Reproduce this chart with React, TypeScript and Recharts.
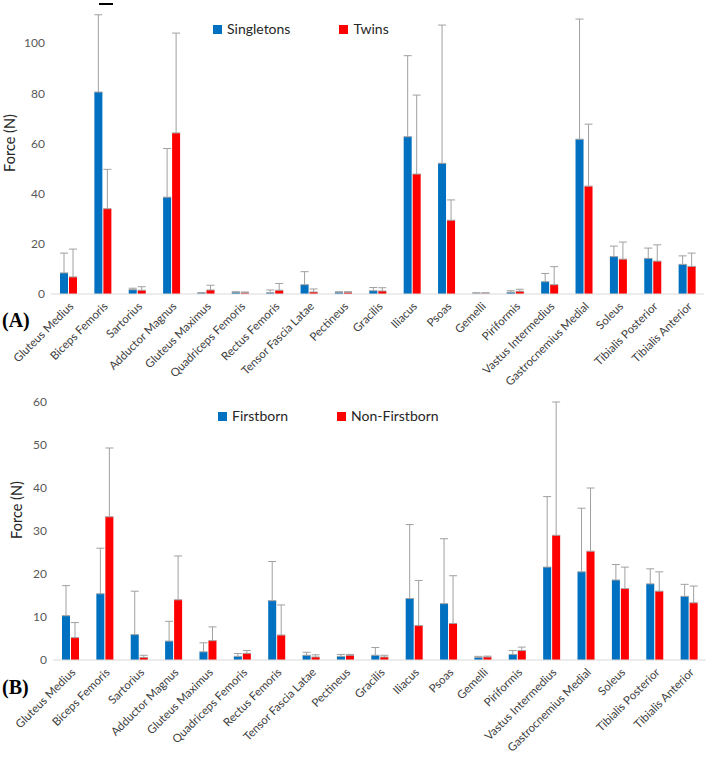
import React from 'react';
import { BarChart, Bar, XAxis, YAxis, Legend, ErrorBar, Label } from 'recharts';

const muscles = [
  'Gluteus Medius', 'Biceps Femoris', 'Sartorius', 'Adductor Magnus', 'Gluteus Maximus',
  'Quadriceps Femoris', 'Rectus Femoris', 'Tensor Fascia Latae', 'Pectineus', 'Gracilis',
  'Iliacus', 'Psoas', 'Gemelli', 'Piriformis', 'Vastus Intermedius',
  'Gastrocnemius Medial', 'Soleus', 'Tibialis Posterior', 'Tibialis Anterior',
];

// Panel A
const singletons = [8.4, 80.5, 1.7, 38.6, 0.4, 0.7, 0.5, 3.7, 0.7, 1.3, 62.7, 52.1, 0.3, 0.7, 4.9, 61.7, 14.9, 14.2, 11.8];
const singletonsSd = [7.9, 30.8, 0.6, 19.4, 0.2, 0.2, 1.1, 5.2, 0.2, 1.3, 32.3, 55.1, 0.2, 0.6, 3.3, 47.9, 4.2, 4.1, 3.4];
const twins = [6.8, 34, 1.5, 64.2, 1.6, 0.5, 1.5, 0.8, 0.7, 1.2, 47.8, 29.4, 0.3, 1.1, 3.7, 43, 13.9, 13.1, 11];
const twinsSd = [11.1, 15.7, 1.4, 39.8, 1.9, 0.3, 2.7, 1.2, 0.2, 1.3, 31.5, 8.1, 0.2, 0.8, 7.2, 24.7, 6.8, 6.5, 5.3];
const ticksA = [0, 20, 40, 60, 80, 100];

// Panel B
const firstborn = [10.3, 15.4, 5.9, 4.4, 1.9, 0.85, 13.8, 1.1, 0.85, 1.1, 14.3, 13.1, 0.6, 1.3, 21.6, 20.5, 18.6, 17.7, 14.8];
const firstbornSd = [7, 10.6, 10.1, 4.6, 2.1, 0.65, 9.1, 0.7, 0.45, 1.8, 17.2, 15.1, 0.25, 0.9, 16.4, 14.8, 3.6, 3.5, 2.8];
const nonFirstborn = [5.2, 33.3, 0.6, 14, 4.5, 1.55, 5.8, 0.7, 1.1, 0.7, 8, 8.5, 0.7, 2.2, 29, 25.3, 16.6, 16, 13.3];
const nonFirstbornSd = [3.5, 16, 0.5, 10.2, 3.2, 0.65, 7, 0.5, 0.2, 0.4, 10.5, 11.1, 0.2, 0.8, 31, 14.7, 5, 4.5, 3.9];
const ticksB = [0, 10, 20, 30, 40, 50, 60];

const BLUE = '#0070C0';
const RED = '#FF0000';
const FONT = 'Lato, "Open Sans", sans-serif';

const buildRows = (a: number[], aSd: number[], b: number[], bSd: number[]) =>
  muscles.map((name, i) => ({
    name,
    a: a[i],
    aErr: [0, aSd[i]],
    b: b[i],
    bErr: [0, bSd[i]],
  }));

const MuscleTick = ({ x, y, payload }: any) => (
  <g transform={`translate(${Number(x) + 6},${Number(y) + 13})`}>
    <text x={0} y={0} textAnchor="end" transform="rotate(-45)" fill="#404040" fontSize={11.5} fontFamily={FONT}>
      {payload.value}
    </text>
  </g>
);

const makeLegend = (names: string[]) => () => (
  <div style={{ display: 'flex', alignItems: 'center', fontFamily: FONT, fontSize: 14, color: '#262626', lineHeight: '16px' }}>
    {names.map((n, i) => (
      <div key={n} style={{ display: 'flex', alignItems: 'center', marginRight: i === 0 ? 49 : 0 }}>
        <span style={{ width: 9, height: 9, background: i === 0 ? BLUE : RED, marginRight: 5, display: 'inline-block' }} />
        <span>{n}</span>
      </div>
    ))}
  </div>
);

const forceTitle = (bx: number, cy: number) => () => (
  <text transform={`translate(${bx},${cy}) rotate(-90)`} textAnchor="middle" fontSize={14.5} fontFamily={FONT} fill="#262626">
    Force (N)
  </text>
);

interface PanelProps {
  rows: any[];
  names: string[];
  height: number;
  top: number;
  right: number;
  yWidth: number;
  xHeight: number;
  domainMax: number;
  ticks: number[];
  legendTop: number;
  legendLeft: number;
  titleX: number;
  titleY: number;
}

const Panel = (p: PanelProps) => (
  <BarChart
    width={708}
    height={p.height}
    data={p.rows}
    margin={{ top: p.top, right: p.right, bottom: 0, left: 0 }}
    barSize={8}
    barGap={1}
  >
    <XAxis
      dataKey="name"
      interval={0}
      tick={<MuscleTick />}
      tickLine={false}
      tickSize={0}
      tickMargin={0}
      height={p.xHeight}
      axisLine={{ stroke: '#d9d9d9' }}
    />
    <YAxis
      width={p.yWidth}
      domain={[0, p.domainMax]}
      ticks={p.ticks}
      axisLine={false}
      tickLine={false}
      tickSize={4}
      tickMargin={2}
      tick={{ fill: '#595959', fontSize: 12, fontFamily: FONT }}
    >
      <Label content={forceTitle(p.titleX, p.titleY)} />
    </YAxis>
    <Legend
      layout="horizontal"
      verticalAlign="middle"
      align="center"
      content={makeLegend(p.names)}
      wrapperStyle={{ top: p.legendTop, left: p.legendLeft, width: 'auto', height: 'auto' }}
    />
    <Bar dataKey="a" name={p.names[0]} fill={BLUE} isAnimationActive={false}>
      <ErrorBar dataKey="aErr" direction="y" width={4} stroke="#a0a0a0" strokeWidth={1} isAnimationActive={false} />
    </Bar>
    <Bar dataKey="b" name={p.names[1]} fill={RED} isAnimationActive={false}>
      <ErrorBar dataKey="bErr" direction="y" width={4} stroke="#a0a0a0" strokeWidth={1} isAnimationActive={false} />
    </Bar>
  </BarChart>
);

const panelTag: React.CSSProperties = {
  position: 'absolute',
  left: 2,
  fontFamily: '"Liberation Serif", "Times New Roman", serif',
  fontWeight: 'bold',
  fontSize: 20,
  lineHeight: '20px',
  color: '#000',
};

export default function App() {
  const rowsA = buildRows(singletons, singletonsSd, twins, twinsSd);
  const rowsB = buildRows(firstborn, firstbornSd, nonFirstborn, nonFirstbornSd);
  return (
    <div style={{ position: 'absolute', top: 0, left: 0, width: 708, height: 758, background: '#fff' }}>
      <div style={{ position: 'absolute', top: 0, left: 0 }}>
        <Panel
          rows={rowsA}
          names={['Singletons', 'Twins']}
          height={402}
          top={3}
          right={4}
          yWidth={51}
          xHeight={108}
          domainMax={116}
          ticks={ticksA}
          legendTop={21}
          legendLeft={213}
          titleX={15}
          titleY={143}
        />
      </div>
      <div style={{ position: 'absolute', top: 380, left: 0 }}>
        <Panel
          rows={rowsB}
          names={['Firstborn', 'Non-Firstborn']}
          height={378}
          top={22}
          right={2}
          yWidth={53}
          xHeight={98}
          domainMax={60}
          ticks={ticksB}
          legendTop={28}
          legendLeft={218}
          titleX={22}
          titleY={130}
        />
      </div>
      <div style={{ position: 'absolute', left: 99, top: 3, width: 14, height: 2, background: '#000' }} />
      <div style={{ ...panelTag, top: 310 }}>(A)</div>
      <div style={{ ...panelTag, top: 677 }}>(B)</div>
    </div>
  );
}
